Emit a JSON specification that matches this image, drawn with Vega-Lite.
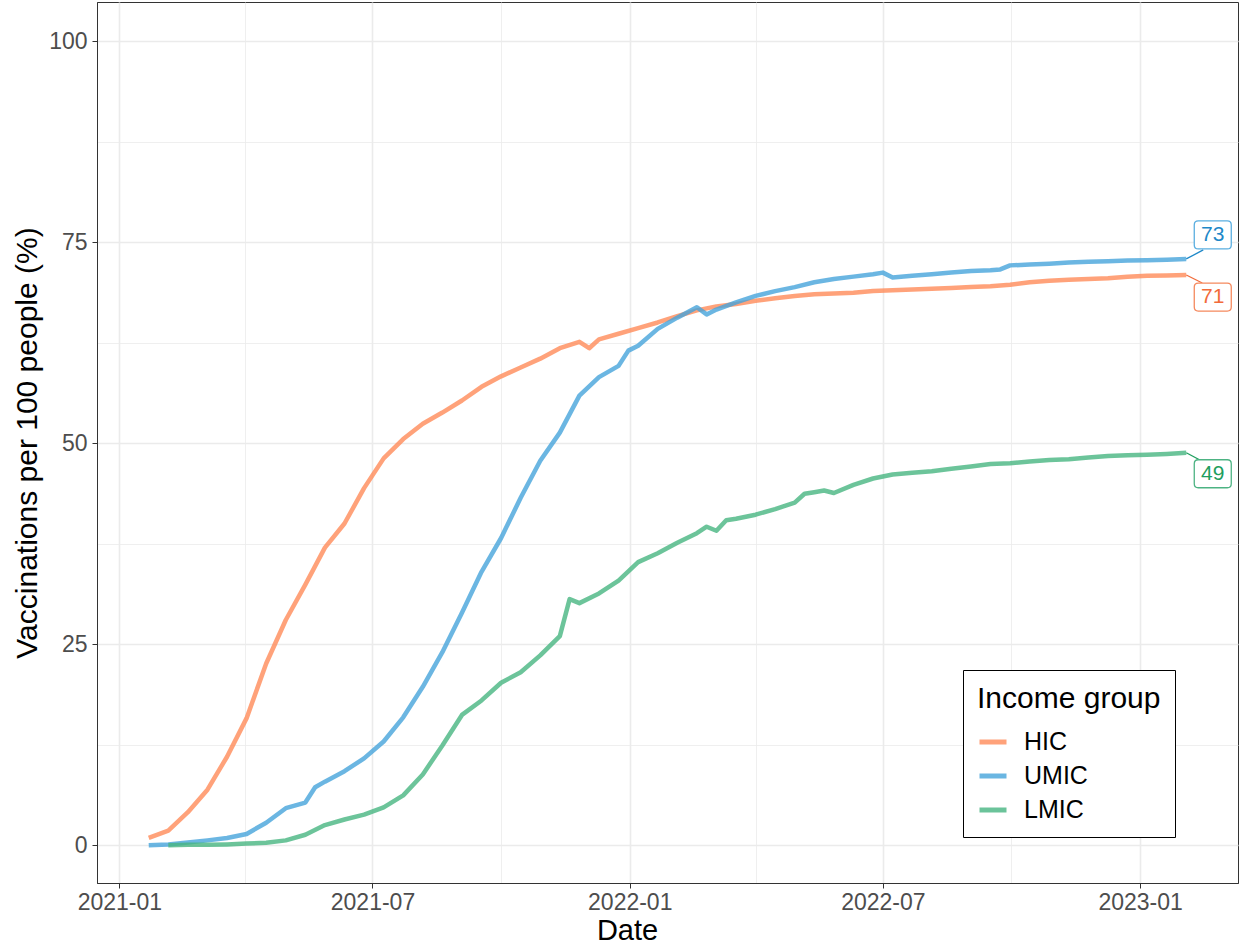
{
  "$schema": "https://vega.github.io/schema/vega-lite/v6.json",
  "width": 1141,
  "height": 881,
  "autosize": {"type": "none"},
  "padding": {"left": 97, "top": 2, "right": 4, "bottom": 66},
  "background": "white",
  "config": {
    "view": {"stroke": "#333333", "strokeWidth": 1},
    "font": "Liberation Sans"
  },
  "datasets": {
    "series": [
      {"group": "HIC", "date": "2021-01-22", "value": 0.9},
      {"group": "HIC", "date": "2021-02-05", "value": 1.8},
      {"group": "HIC", "date": "2021-02-19", "value": 4.1},
      {"group": "HIC", "date": "2021-03-05", "value": 6.9},
      {"group": "HIC", "date": "2021-03-19", "value": 11.0},
      {"group": "HIC", "date": "2021-04-02", "value": 15.8},
      {"group": "HIC", "date": "2021-04-16", "value": 22.6},
      {"group": "HIC", "date": "2021-04-30", "value": 28.0},
      {"group": "HIC", "date": "2021-05-14", "value": 32.4},
      {"group": "HIC", "date": "2021-05-28", "value": 37.0},
      {"group": "HIC", "date": "2021-06-11", "value": 40.0},
      {"group": "HIC", "date": "2021-06-25", "value": 44.4},
      {"group": "HIC", "date": "2021-07-09", "value": 48.1},
      {"group": "HIC", "date": "2021-07-23", "value": 50.5},
      {"group": "HIC", "date": "2021-08-06", "value": 52.4},
      {"group": "HIC", "date": "2021-08-20", "value": 53.8},
      {"group": "HIC", "date": "2021-09-03", "value": 55.3},
      {"group": "HIC", "date": "2021-09-17", "value": 57.0},
      {"group": "HIC", "date": "2021-10-01", "value": 58.3},
      {"group": "HIC", "date": "2021-10-15", "value": 59.4},
      {"group": "HIC", "date": "2021-10-29", "value": 60.5},
      {"group": "HIC", "date": "2021-11-12", "value": 61.8},
      {"group": "HIC", "date": "2021-11-26", "value": 62.6},
      {"group": "HIC", "date": "2021-12-03", "value": 61.8},
      {"group": "HIC", "date": "2021-12-10", "value": 62.9},
      {"group": "HIC", "date": "2021-12-24", "value": 63.6},
      {"group": "HIC", "date": "2022-01-07", "value": 64.3},
      {"group": "HIC", "date": "2022-01-21", "value": 65.0},
      {"group": "HIC", "date": "2022-02-04", "value": 65.8},
      {"group": "HIC", "date": "2022-02-18", "value": 66.5},
      {"group": "HIC", "date": "2022-03-04", "value": 67.0},
      {"group": "HIC", "date": "2022-03-18", "value": 67.3},
      {"group": "HIC", "date": "2022-04-01", "value": 67.7},
      {"group": "HIC", "date": "2022-04-15", "value": 68.0},
      {"group": "HIC", "date": "2022-04-29", "value": 68.3},
      {"group": "HIC", "date": "2022-05-13", "value": 68.5},
      {"group": "HIC", "date": "2022-05-27", "value": 68.6},
      {"group": "HIC", "date": "2022-06-10", "value": 68.7},
      {"group": "HIC", "date": "2022-06-24", "value": 68.9},
      {"group": "HIC", "date": "2022-07-08", "value": 69.0},
      {"group": "HIC", "date": "2022-07-22", "value": 69.1},
      {"group": "HIC", "date": "2022-08-05", "value": 69.2},
      {"group": "HIC", "date": "2022-08-19", "value": 69.3},
      {"group": "HIC", "date": "2022-09-02", "value": 69.4},
      {"group": "HIC", "date": "2022-09-16", "value": 69.5},
      {"group": "HIC", "date": "2022-09-30", "value": 69.7},
      {"group": "HIC", "date": "2022-10-14", "value": 70.0},
      {"group": "HIC", "date": "2022-10-28", "value": 70.2},
      {"group": "HIC", "date": "2022-11-11", "value": 70.3},
      {"group": "HIC", "date": "2022-11-25", "value": 70.4},
      {"group": "HIC", "date": "2022-12-09", "value": 70.5},
      {"group": "HIC", "date": "2022-12-23", "value": 70.7},
      {"group": "HIC", "date": "2023-01-06", "value": 70.8},
      {"group": "HIC", "date": "2023-01-20", "value": 70.85},
      {"group": "HIC", "date": "2023-02-03", "value": 70.9},

      {"group": "UMIC", "date": "2021-01-22", "value": 0.0},
      {"group": "UMIC", "date": "2021-02-05", "value": 0.1},
      {"group": "UMIC", "date": "2021-02-19", "value": 0.35},
      {"group": "UMIC", "date": "2021-03-05", "value": 0.6},
      {"group": "UMIC", "date": "2021-03-19", "value": 0.9},
      {"group": "UMIC", "date": "2021-04-02", "value": 1.4},
      {"group": "UMIC", "date": "2021-04-16", "value": 2.8},
      {"group": "UMIC", "date": "2021-04-30", "value": 4.6},
      {"group": "UMIC", "date": "2021-05-14", "value": 5.3},
      {"group": "UMIC", "date": "2021-05-21", "value": 7.2},
      {"group": "UMIC", "date": "2021-05-28", "value": 7.9},
      {"group": "UMIC", "date": "2021-06-11", "value": 9.2},
      {"group": "UMIC", "date": "2021-06-25", "value": 10.8},
      {"group": "UMIC", "date": "2021-07-09", "value": 12.9},
      {"group": "UMIC", "date": "2021-07-23", "value": 15.9},
      {"group": "UMIC", "date": "2021-08-06", "value": 19.7},
      {"group": "UMIC", "date": "2021-08-20", "value": 24.0},
      {"group": "UMIC", "date": "2021-09-03", "value": 28.9},
      {"group": "UMIC", "date": "2021-09-17", "value": 34.0},
      {"group": "UMIC", "date": "2021-10-01", "value": 38.2},
      {"group": "UMIC", "date": "2021-10-15", "value": 43.2},
      {"group": "UMIC", "date": "2021-10-29", "value": 47.8},
      {"group": "UMIC", "date": "2021-11-12", "value": 51.3},
      {"group": "UMIC", "date": "2021-11-26", "value": 55.9},
      {"group": "UMIC", "date": "2021-12-10", "value": 58.2},
      {"group": "UMIC", "date": "2021-12-24", "value": 59.6},
      {"group": "UMIC", "date": "2021-12-31", "value": 61.5},
      {"group": "UMIC", "date": "2022-01-07", "value": 62.1},
      {"group": "UMIC", "date": "2022-01-21", "value": 64.2},
      {"group": "UMIC", "date": "2022-02-04", "value": 65.6},
      {"group": "UMIC", "date": "2022-02-18", "value": 66.9},
      {"group": "UMIC", "date": "2022-02-25", "value": 66.0},
      {"group": "UMIC", "date": "2022-03-04", "value": 66.6},
      {"group": "UMIC", "date": "2022-03-18", "value": 67.5},
      {"group": "UMIC", "date": "2022-04-01", "value": 68.3},
      {"group": "UMIC", "date": "2022-04-15", "value": 68.9},
      {"group": "UMIC", "date": "2022-04-29", "value": 69.4},
      {"group": "UMIC", "date": "2022-05-13", "value": 70.0},
      {"group": "UMIC", "date": "2022-05-27", "value": 70.4},
      {"group": "UMIC", "date": "2022-06-10", "value": 70.7},
      {"group": "UMIC", "date": "2022-06-24", "value": 71.0},
      {"group": "UMIC", "date": "2022-07-01", "value": 71.2},
      {"group": "UMIC", "date": "2022-07-08", "value": 70.6},
      {"group": "UMIC", "date": "2022-07-22", "value": 70.8},
      {"group": "UMIC", "date": "2022-08-05", "value": 71.0},
      {"group": "UMIC", "date": "2022-08-19", "value": 71.2},
      {"group": "UMIC", "date": "2022-09-02", "value": 71.4},
      {"group": "UMIC", "date": "2022-09-16", "value": 71.5},
      {"group": "UMIC", "date": "2022-09-23", "value": 71.6},
      {"group": "UMIC", "date": "2022-09-30", "value": 72.1},
      {"group": "UMIC", "date": "2022-10-14", "value": 72.2},
      {"group": "UMIC", "date": "2022-10-28", "value": 72.3},
      {"group": "UMIC", "date": "2022-11-11", "value": 72.45},
      {"group": "UMIC", "date": "2022-11-25", "value": 72.55},
      {"group": "UMIC", "date": "2022-12-09", "value": 72.6},
      {"group": "UMIC", "date": "2022-12-23", "value": 72.7},
      {"group": "UMIC", "date": "2023-01-06", "value": 72.75},
      {"group": "UMIC", "date": "2023-01-20", "value": 72.8},
      {"group": "UMIC", "date": "2023-02-03", "value": 72.9},

      {"group": "LMIC", "date": "2021-02-05", "value": 0.0},
      {"group": "LMIC", "date": "2021-02-19", "value": 0.05},
      {"group": "LMIC", "date": "2021-03-05", "value": 0.05},
      {"group": "LMIC", "date": "2021-03-19", "value": 0.1},
      {"group": "LMIC", "date": "2021-04-02", "value": 0.2},
      {"group": "LMIC", "date": "2021-04-16", "value": 0.3},
      {"group": "LMIC", "date": "2021-04-30", "value": 0.6},
      {"group": "LMIC", "date": "2021-05-14", "value": 1.3},
      {"group": "LMIC", "date": "2021-05-28", "value": 2.5},
      {"group": "LMIC", "date": "2021-06-11", "value": 3.2},
      {"group": "LMIC", "date": "2021-06-25", "value": 3.8},
      {"group": "LMIC", "date": "2021-07-09", "value": 4.7},
      {"group": "LMIC", "date": "2021-07-23", "value": 6.2},
      {"group": "LMIC", "date": "2021-08-06", "value": 8.8},
      {"group": "LMIC", "date": "2021-08-20", "value": 12.4},
      {"group": "LMIC", "date": "2021-09-03", "value": 16.2},
      {"group": "LMIC", "date": "2021-09-17", "value": 18.0},
      {"group": "LMIC", "date": "2021-10-01", "value": 20.2},
      {"group": "LMIC", "date": "2021-10-15", "value": 21.5},
      {"group": "LMIC", "date": "2021-10-29", "value": 23.6},
      {"group": "LMIC", "date": "2021-11-12", "value": 26.0},
      {"group": "LMIC", "date": "2021-11-19", "value": 30.6},
      {"group": "LMIC", "date": "2021-11-26", "value": 30.1},
      {"group": "LMIC", "date": "2021-12-10", "value": 31.3},
      {"group": "LMIC", "date": "2021-12-24", "value": 32.9},
      {"group": "LMIC", "date": "2022-01-07", "value": 35.2},
      {"group": "LMIC", "date": "2022-01-21", "value": 36.3},
      {"group": "LMIC", "date": "2022-02-04", "value": 37.6},
      {"group": "LMIC", "date": "2022-02-18", "value": 38.8},
      {"group": "LMIC", "date": "2022-02-25", "value": 39.6},
      {"group": "LMIC", "date": "2022-03-04", "value": 39.1},
      {"group": "LMIC", "date": "2022-03-11", "value": 40.4},
      {"group": "LMIC", "date": "2022-03-18", "value": 40.6},
      {"group": "LMIC", "date": "2022-04-01", "value": 41.1},
      {"group": "LMIC", "date": "2022-04-15", "value": 41.8},
      {"group": "LMIC", "date": "2022-04-29", "value": 42.6},
      {"group": "LMIC", "date": "2022-05-06", "value": 43.7},
      {"group": "LMIC", "date": "2022-05-13", "value": 43.9},
      {"group": "LMIC", "date": "2022-05-20", "value": 44.1},
      {"group": "LMIC", "date": "2022-05-27", "value": 43.8},
      {"group": "LMIC", "date": "2022-06-10", "value": 44.8},
      {"group": "LMIC", "date": "2022-06-24", "value": 45.6},
      {"group": "LMIC", "date": "2022-07-08", "value": 46.1},
      {"group": "LMIC", "date": "2022-07-22", "value": 46.3},
      {"group": "LMIC", "date": "2022-08-05", "value": 46.5},
      {"group": "LMIC", "date": "2022-08-19", "value": 46.8},
      {"group": "LMIC", "date": "2022-09-02", "value": 47.1},
      {"group": "LMIC", "date": "2022-09-16", "value": 47.4},
      {"group": "LMIC", "date": "2022-09-30", "value": 47.5},
      {"group": "LMIC", "date": "2022-10-14", "value": 47.7},
      {"group": "LMIC", "date": "2022-10-28", "value": 47.9},
      {"group": "LMIC", "date": "2022-11-11", "value": 48.0},
      {"group": "LMIC", "date": "2022-11-25", "value": 48.2},
      {"group": "LMIC", "date": "2022-12-09", "value": 48.4},
      {"group": "LMIC", "date": "2022-12-23", "value": 48.5},
      {"group": "LMIC", "date": "2023-01-06", "value": 48.55},
      {"group": "LMIC", "date": "2023-01-20", "value": 48.65},
      {"group": "LMIC", "date": "2023-02-03", "value": 48.8}
    ],
    "ends": [
      {"group": "HIC", "date": "2023-02-03", "value": 70.9, "label": "71"},
      {"group": "UMIC", "date": "2023-02-03", "value": 72.9, "label": "73"},
      {"group": "LMIC", "date": "2023-02-03", "value": 48.8, "label": "49"}
    ]
  },
  "encoding": {
    "x": {
      "field": "date",
      "type": "temporal",
      "scale": {
        "domain": [{"year": 2020, "month": 12, "date": 16}, {"year": 2023, "month": 3, "date": 12}]
      },
      "axis": {
        "title": "Date",
        "values": [
          {"year": 2021, "month": 1, "date": 1},
          {"year": 2021, "month": 4, "date": 1},
          {"year": 2021, "month": 7, "date": 1},
          {"year": 2021, "month": 10, "date": 1},
          {"year": 2022, "month": 1, "date": 1},
          {"year": 2022, "month": 4, "date": 1},
          {"year": 2022, "month": 7, "date": 1},
          {"year": 2022, "month": 10, "date": 1},
          {"year": 2023, "month": 1, "date": 1}
        ],
        "format": "%Y-%m",
        "labelExpr": "month(datum.value) % 6 === 0 ? datum.label : ''",
        "labelFont": "Liberation Sans",
        "labelFontSize": 23,
        "labelColor": "#4D4D4D",
        "labelPadding": 3,
        "labelFlush": false,
        "labelOverlap": false,
        "tickSize": 5,
        "tickColor": "#333333",
        "tickOpacity": {"condition": {"test": "month(datum.value) % 6 === 0", "value": 1}, "value": 0},
        "gridColor": "#EBEBEB",
        "gridWidth": {"condition": {"test": "month(datum.value) % 6 === 0", "value": 1.6}, "value": 0.8},
        "domainColor": "#333333",
        "titleFont": "Liberation Sans",
        "titleFontSize": 29,
        "titleFontWeight": "normal",
        "titleColor": "black",
        "titlePadding": 2,
        "titleX": 530,
        "titleAlign": "center"
      }
    },
    "y": {
      "field": "value",
      "type": "quantitative",
      "scale": {"domain": [-4.7, 104.85], "nice": false, "zero": false},
      "axis": {
        "title": "Vaccinations per 100 people (%)",
        "values": [0, 12.5, 25, 37.5, 50, 62.5, 75, 87.5, 100],
        "labelExpr": "datum.value % 25 === 0 ? datum.label : ''",
        "labelFont": "Liberation Sans",
        "labelFontSize": 23,
        "labelColor": "#4D4D4D",
        "labelPadding": 5,
        "labelFlush": false,
        "labelOverlap": false,
        "tickSize": 5,
        "tickColor": "#333333",
        "tickOpacity": {"condition": {"test": "datum.value % 25 === 0", "value": 1}, "value": 0},
        "gridColor": "#EBEBEB",
        "gridWidth": {"condition": {"test": "datum.value % 25 === 0", "value": 1.6}, "value": 0.8},
        "domainColor": "#333333",
        "titleFont": "Liberation Sans",
        "titleFontSize": 30,
        "titleFontWeight": "normal",
        "titleColor": "black",
        "titlePadding": 6
      }
    }
  },
  "layer": [
    {
      "data": {"name": "series"},
      "mark": {"type": "line", "strokeWidth": 4.5, "opacity": 0.8, "strokeCap": "butt", "strokeJoin": "round"},
      "encoding": {
        "color": {
          "field": "group",
          "type": "nominal",
          "scale": {"domain": ["HIC", "UMIC", "LMIC"], "range": ["#FF8B59", "#46A4DB", "#47B581"]},
          "legend": {
            "title": "Income group",
            "orient": "none",
            "direction": "vertical",
            "legendX": 866,
            "legendY": 668,
            "padding": 14,
            "strokeColor": "black",
            "fillColor": "white",
            "titleFont": "Liberation Sans",
            "titleFontSize": 30,
            "titleFontWeight": "normal",
            "titleColor": "black",
            "titlePadding": 12,
            "titleLimit": 500,
            "labelFont": "Liberation Sans",
            "labelFontSize": 25,
            "labelColor": "black",
            "labelOffset": 15,
            "symbolType": "stroke",
            "symbolSize": 729,
            "symbolStrokeWidth": 5,
            "rowPadding": 5
          }
        },
        "detail": {"field": "group"}
      }
    },
    {
      "data": {"name": "ends"},
      "transform": [{"filter": "datum.group === 'UMIC'"}],
      "layer": [
        {"mark": {"type": "rule", "color": "#1E88C8", "strokeWidth": 1.3, "x2Offset": 17, "y2Offset": -9},
         "encoding": {"x2": {"field": "date"}, "y2": {"field": "value"}}},
        {"mark": {"type": "point", "shape": "M-1.45,-1.4 L1.45,-1.4 Q1.85,-1.4 1.85,-1 L1.85,1 Q1.85,1.4 1.45,1.4 L-1.45,1.4 Q-1.85,1.4 -1.85,1 L-1.85,-1 Q-1.85,-1.4 -1.45,-1.4 Z", "size": 400, "filled": true, "fill": "white", "stroke": "#5AAEE0", "strokeWidth": 1.3, "opacity": 1, "xOffset": 26.5, "yOffset": -24}},
        {"mark": {"type": "text", "font": "Liberation Sans", "fontSize": 21, "color": "#1E88C8", "dx": 26.5, "dy": -24, "align": "center", "baseline": "middle"},
         "encoding": {"text": {"field": "label"}}}
      ]
    },
    {
      "data": {"name": "ends"},
      "transform": [{"filter": "datum.group === 'HIC'"}],
      "layer": [
        {"mark": {"type": "rule", "color": "#F26B3A", "strokeWidth": 1.3, "x2Offset": 16, "y2Offset": 8},
         "encoding": {"x2": {"field": "date"}, "y2": {"field": "value"}}},
        {"mark": {"type": "point", "shape": "M-1.45,-1.4 L1.45,-1.4 Q1.85,-1.4 1.85,-1 L1.85,1 Q1.85,1.4 1.45,1.4 L-1.45,1.4 Q-1.85,1.4 -1.85,1 L-1.85,-1 Q-1.85,-1.4 -1.45,-1.4 Z", "size": 400, "filled": true, "fill": "white", "stroke": "#F5895E", "strokeWidth": 1.3, "opacity": 1, "xOffset": 26.5, "yOffset": 22}},
        {"mark": {"type": "text", "font": "Liberation Sans", "fontSize": 21, "color": "#F26B3A", "dx": 26.5, "dy": 22, "align": "center", "baseline": "middle"},
         "encoding": {"text": {"field": "label"}}}
      ]
    },
    {
      "data": {"name": "ends"},
      "transform": [{"filter": "datum.group === 'LMIC'"}],
      "layer": [
        {"mark": {"type": "rule", "color": "#1E9E5E", "strokeWidth": 1.3, "x2Offset": 15, "y2Offset": 8},
         "encoding": {"x2": {"field": "date"}, "y2": {"field": "value"}}},
        {"mark": {"type": "point", "shape": "M-1.45,-1.4 L1.45,-1.4 Q1.85,-1.4 1.85,-1 L1.85,1 Q1.85,1.4 1.45,1.4 L-1.45,1.4 Q-1.85,1.4 -1.85,1 L-1.85,-1 Q-1.85,-1.4 -1.45,-1.4 Z", "size": 400, "filled": true, "fill": "white", "stroke": "#4DB383", "strokeWidth": 1.3, "opacity": 1, "xOffset": 26.5, "yOffset": 21}},
        {"mark": {"type": "text", "font": "Liberation Sans", "fontSize": 21, "color": "#1E9E5E", "dx": 26.5, "dy": 21, "align": "center", "baseline": "middle"},
         "encoding": {"text": {"field": "label"}}}
      ]
    }
  ]
}
